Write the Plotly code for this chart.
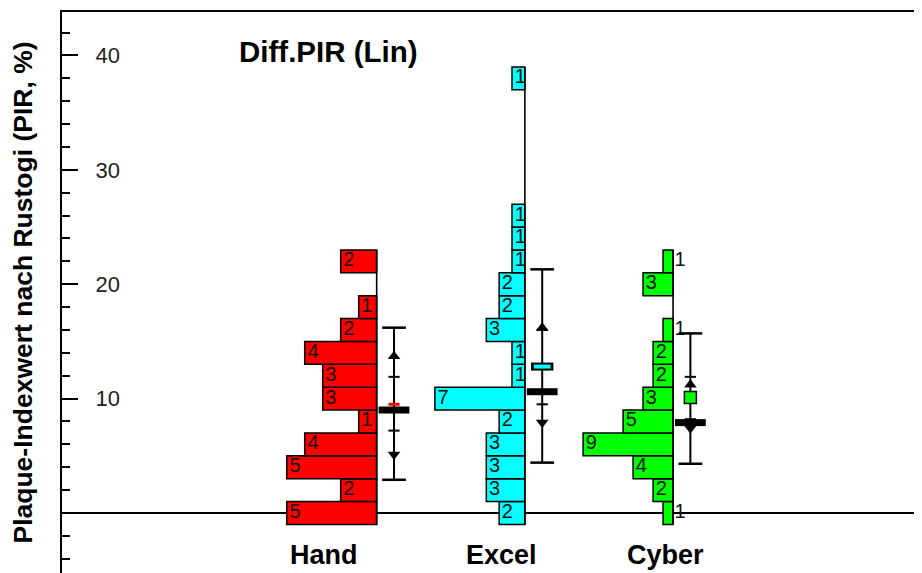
import plotly.graph_objects as go

# ---------------- data ----------------
groups = ["Hand", "Excel", "Cyber"]
bin_centers = [0, 2, 4, 6, 8, 10, 12, 14, 16, 18, 20, 22, 24, 26, 28, 30, 32, 34, 36, 38]
hand_counts = [5, 2, 5, 4, 1, 3, 3, 4, 2, 1, 0, 2, 0, 0, 0, 0, 0, 0, 0, 0]
excel_counts = [2, 3, 3, 3, 2, 7, 1, 1, 3, 2, 2, 1, 1, 1, 0, 0, 0, 0, 0, 1]
cyber_counts = [1, 2, 4, 9, 5, 3, 2, 2, 1, 0, 3, 1, 0, 0, 0, 0, 0, 0, 0, 0]

stat_max = [16.2, 21.3, 15.7]
stat_min = [2.9, 4.4, 4.3]
stat_tri_up = [13.7, 16.2, 11.2]
stat_tri_down = [5.1, 7.9, 7.4]
stat_tick_hi = [11.9, 16.0, 11.9]
stat_tick_lo = [7.2, 9.5, 8.2]
stat_median = [9.0, 10.6, 7.9]
stat_mean = [9.5, 12.8, 10.1]

y_ticks = [10, 20, 30, 40]

# ---------------- layout constants ----------------
colors = ["#FF0000", "#00FFFF", "#00FF00"]
group_pos = [1, 2, 3]
label_dx = [-0.356, -0.155, -0.054]
BIN_W = 2
HIST_MAX_W = 0.607
STAT_DX = 0.117
TXT_PAD = 0.018
FONT = "Liberation Sans, Arial, sans-serif"
PAGE_OFF = 8  # browser body margin

all_counts = [hand_counts, excel_counts, cyber_counts]

fig = go.Figure()

for gi, counts in enumerate(all_counts):
    pos = group_pos[gi]
    scale = HIST_MAX_W / max(counts)
    ys, ws, bases = [], [], []
    for yc, c in zip(bin_centers, counts):
        if c > 0:
            ys.append(yc)
            ws.append(c * scale)
            bases.append(pos - c * scale)
    # vertical base line
    fig.add_trace(go.Scatter(
        x=[pos, pos], y=[min(ys) - BIN_W / 2, max(ys) + BIN_W / 2],
        mode="lines", line=dict(color="black", width=1.6),
        hoverinfo="skip", showlegend=False))
    fig.add_trace(go.Bar(
        orientation="h", y=ys, x=ws, base=bases, width=BIN_W,
        marker=dict(color=colors[gi], line=dict(color="black", width=1.5)),
        hoverinfo="skip", showlegend=False))
    # count labels
    tx, ty, tt = [], [], []
    for yc, w, b in zip(ys, ws, bases):
        c = round(w / scale)
        ty.append(yc)
        tt.append(str(c))
        if w < 0.075:
            tx.append(pos + 0.01)
        else:
            tx.append(b + TXT_PAD)
    fig.add_trace(go.Scatter(
        x=tx, y=ty, text=tt, mode="text", textposition="middle right",
        textfont=dict(family=FONT, size=20, color="#111111"),
        hoverinfo="skip", showlegend=False))

    sx = pos + STAT_DX
    # whisker
    fig.add_trace(go.Scatter(
        x=[sx, sx], y=[stat_min[gi], stat_max[gi]], mode="lines",
        line=dict(color="black", width=2), hoverinfo="skip", showlegend=False))
    # caps
    fig.add_trace(go.Scatter(
        x=[sx, sx], y=[stat_min[gi], stat_max[gi]], mode="markers",
        marker=dict(symbol="line-ew", size=17, line=dict(color="black", width=2.5)),
        hoverinfo="skip", showlegend=False))
    # small ticks
    fig.add_trace(go.Scatter(
        x=[sx, sx], y=[stat_tick_lo[gi], stat_tick_hi[gi]], mode="markers",
        marker=dict(symbol="line-ew", size=8, line=dict(color="black", width=2)),
        hoverinfo="skip", showlegend=False))
    # triangles
    fig.add_trace(go.Scatter(
        x=[sx], y=[stat_tri_up[gi]], mode="markers",
        marker=dict(symbol="triangle-up", size=11, color="black"),
        hoverinfo="skip", showlegend=False))
    fig.add_trace(go.Scatter(
        x=[sx], y=[stat_tri_down[gi]], mode="markers",
        marker=dict(symbol="triangle-down", size=11, color="black"),
        hoverinfo="skip", showlegend=False))
    # thick median bar
    fig.add_trace(go.Scatter(
        x=[sx], y=[stat_median[gi]], mode="markers",
        marker=dict(symbol="line-ew", size=22, line=dict(color="black", width=7)),
        hoverinfo="skip", showlegend=False))
    # mean marker
    if gi == 0:
        fig.add_trace(go.Scatter(
            x=[sx], y=[stat_mean[gi]], mode="markers",
            marker=dict(symbol="line-ew", size=8, line=dict(color=colors[gi], width=3)),
            hoverinfo="skip", showlegend=False))
    elif gi == 1:
        fig.add_trace(go.Scatter(
            x=[sx], y=[stat_mean[gi]], mode="markers",
            marker=dict(symbol="line-ew", size=16, line=dict(color="black", width=8)),
            hoverinfo="skip", showlegend=False))
        fig.add_trace(go.Scatter(
            x=[sx], y=[stat_mean[gi]], mode="markers",
            marker=dict(symbol="line-ew", size=12, line=dict(color=colors[gi], width=4)),
            hoverinfo="skip", showlegend=False))
    else:
        fig.add_trace(go.Scatter(
            x=[sx], y=[stat_mean[gi]], mode="markers",
            marker=dict(symbol="square", size=12, color=colors[gi],
                        line=dict(color="black", width=1.5)),
            hoverinfo="skip", showlegend=False))

annotations = []
for gi, name in enumerate(groups):
    annotations.append(dict(
        x=group_pos[gi] + label_dx[gi], y=-3.7, xref="x", yref="y",
        text=f"<b>{name}</b>", showarrow=False,
        font=dict(family=FONT, size=27, color="black"),
        xanchor="center", yanchor="middle"))

annotations.append(dict(
    x=(237 - 62) / 860, y=1 - (52 - 12) / 561, xref="paper", yref="paper",
    text="<b>Diff.PIR (Lin)</b>", showarrow=False,
    font=dict(family=FONT, size=29.5, color="black"),
    xanchor="left", yanchor="middle"))

fig.update_layout(
    width=922, height=573,
    margin=dict(l=62 - PAGE_OFF, r=PAGE_OFF, t=12 - PAGE_OFF, b=PAGE_OFF, autoexpand=False),
    paper_bgcolor="white", plot_bgcolor="white",
    barmode="overlay", showlegend=False,
    annotations=annotations,
    xaxis=dict(range=[-1.1235, 4.68], side="top", showline=True, linecolor="black",
               linewidth=2, showticklabels=False, ticks="", showgrid=False,
               zeroline=False, fixedrange=True),
    yaxis=dict(range=[-5.25, 43.8], tickvals=y_ticks, ticks="inside", ticklen=16,
               tickwidth=2, tickcolor="black", ticklabelposition="inside",
               ticklabelstandoff=19,
               tickfont=dict(family=FONT, size=22, color="#222222"),
               title=dict(text="<b>Plaque-Indexwert nach Rustogi (PIR, %)</b>",
                          font=dict(family=FONT, size=26.5, color="black"),
                          standoff=60),
               automargin=False,
               showline=True, linecolor="black", linewidth=2,
               zeroline=True, zerolinecolor="black", zerolinewidth=1.5,
               showgrid=False, fixedrange=True,
               minor=dict(dtick=2, tick0=0, ticks="inside", ticklen=8,
                          tickwidth=2, tickcolor="black", showgrid=False)),
)

fig.write_html("out.html")
